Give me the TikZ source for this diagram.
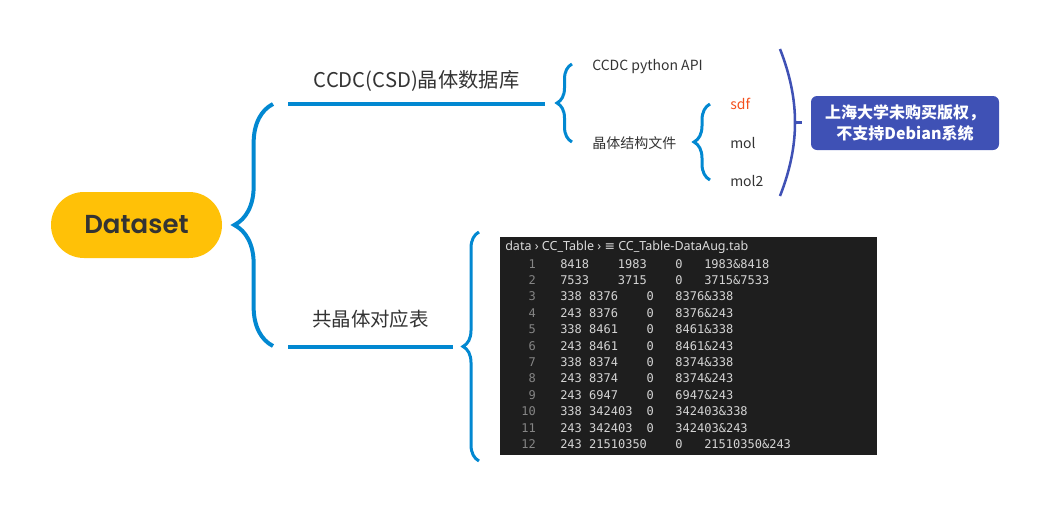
\documentclass[tikz,border=0pt]{standalone}
\usepackage{fontspec}
\setmainfont{Noto Sans CJK SC}
\newfontfamily\titlefont{Poppins}[UprightFont={* SemiBold}]
\newfontfamily\uifont{Noto Sans}
\newfontfamily\codefont{DejaVu Sans Mono}
\newfontfamily\symfont{DejaVu Sans}
\usetikzlibrary{decorations.pathreplacing,positioning}
\definecolor{mmyellow}{RGB}{255,193,7}
\definecolor{mmblue}{RGB}{2,136,209}
\definecolor{mmindigo}{RGB}{63,81,181}
\definecolor{mmred}{RGB}{244,81,30}
\definecolor{mmtext}{RGB}{51,51,51}
\definecolor{codebg}{RGB}{30,30,30}
\definecolor{codefg}{RGB}{212,212,212}
\definecolor{codenum}{RGB}{133,133,133}
\tikzstyle{root} = [rectangle, rounded corners=24.7pt, minimum width=128.25pt, minimum height=49.5pt, fill=mmyellow, text=mmtext, font=\titlefont\fontsize{19.5}{22}\selectfont]
\tikzstyle{topic} = [inner sep=0pt, text=mmtext, font=\fontsize{14.6}{17}\selectfont]
\tikzstyle{leaf} = [inner sep=0pt, text=mmtext, font=\fontsize{10.5}{12}\selectfont]
\tikzstyle{mmbrace} = [decorate, line width=2.25pt, color=mmblue]
\tikzstyle{stem} = [line width=3pt, color=mmblue]
\tikzstyle{note} = [rectangle, rounded corners=4.5pt, minimum width=141pt, minimum height=40.5pt, fill=mmindigo, text=white, align=center, font=\bfseries\fontsize{12}{15.75}\selectfont]
\tikzstyle{code} = [inner sep=0pt, anchor=base west, text=codefg, font=\codefont\fontsize{9}{10}\selectfont]
\tikzstyle{num} = [inner sep=0pt, anchor=base east, text=codenum, font=\codefont\fontsize{9}{10}\selectfont]

\begin{document}
\begin{tikzpicture}[x=0.75pt, y=-0.75pt]
\useasboundingbox (0,0) rectangle (1050,511);

% root and main brace
\node[root] (ds) at (136.5,225) {Dataset};
\coordinate (b0t) at (273,104);
\coordinate (b0b) at (273,346);
\draw[mmbrace, line width=3pt, decoration={brace, amplitude=29pt}] (b0b) -- (b0t);

% first topic
\node[topic, anchor=base, font=\fontsize{15.2}{17}\selectfont] (csd) at (416.5,87) {CCDC(CSD)晶体数据库};
\coordinate (l1a) at (288,103.5);
\coordinate (l1b) at (545,103.5);
\draw[stem] (l1a) -- (l1b);
\coordinate (b1t) at (572,64);
\coordinate (b1b) at (572,142);
\draw[mmbrace, decoration={brace, amplitude=11.25pt}] (b1b) -- (b1t);
\node[leaf, anchor=base west] (api) at (592,70) {CCDC python API};
\node[leaf, anchor=base west] (file) at (592,148) {晶体结构文件};
\coordinate (b2t) at (710,104);
\coordinate (b2b) at (710,180);
\draw[mmbrace, decoration={brace, amplitude=12pt}] (b2b) -- (b2t);
\node[leaf, anchor=base west, text=mmred] (sdf) at (730,109) {sdf};
\node[leaf, anchor=base west] (mol) at (730,148) {mol};
\node[leaf, anchor=base west] (mol2) at (730,186) {mol2};

% summary bracket and note
\coordinate (pt) at (780,49);
\coordinate (pb) at (780,196);
\coordinate (pm) at (795,122.5);
\coordinate (pe) at (802,122.5);
\draw[line width=1.9pt, color=mmindigo] (pt) .. controls (800,100) and (800,145) .. (pb);
\draw[line width=1.9pt, color=mmindigo] (pm) -- (pe);
\node[note] (nt) at (905,123) {上海大学未购买版权，\\ 不支持Debian系统};

% second topic
\node[topic, anchor=base] (cc) at (370.5,326) {共晶体对应表};
\coordinate (l2a) at (288,346.5);
\coordinate (l2b) at (453,346.5);
\draw[stem] (l2a) -- (l2b);
\coordinate (b3t) at (479,232);
\coordinate (b3b) at (479,461);
\draw[mmbrace, decoration={brace, amplitude=12pt}] (b3b) -- (b3t);

% table screenshot
\fill[codebg] (500,237) rectangle (877,455);
\node[code, text=codefg!85, font=\uifont\fontsize{9.4}{10}\selectfont] (path) at (505,250.5) {data › CC\_Table › {\symfont ≡} CC\_Table-DataAug.tab};
\foreach \n/\ta/\tb/\z/\td in {1/8418/1983/16/1983\&8418, 2/7533/3715/16/3715\&7533,
  3/338 8376//12/8376\&338, 4/243 8376//12/8376\&243, 5/338 8461//12/8461\&338,
  6/243 8461//12/8461\&243, 7/338 8374//12/8374\&338, 8/243 8374//12/8374\&243,
  9/243 6947//12/6947\&243, 10/338 342403//12/342403\&338, 11/243 342403//12/342403\&243,
  12/243 21510350//16/21510350\&243}
{
  \pgfmathsetmacro\yb{263.6+(\n-1)*16.4+4.4}
  \node[num] (n\n) at (536,\yb) {\n};
  \node[code] (a\n) at (560,\yb) {\ta};
  \node[code] (b\n) at (560+8*7.2,\yb) {\tb};
  \node[code] (c\n) at (560+\z*7.2,\yb) {0};
  \node[code] (d\n) at (560+\z*7.2+4*7.2,\yb) {\td};
}
\end{tikzpicture}
\end{document}
